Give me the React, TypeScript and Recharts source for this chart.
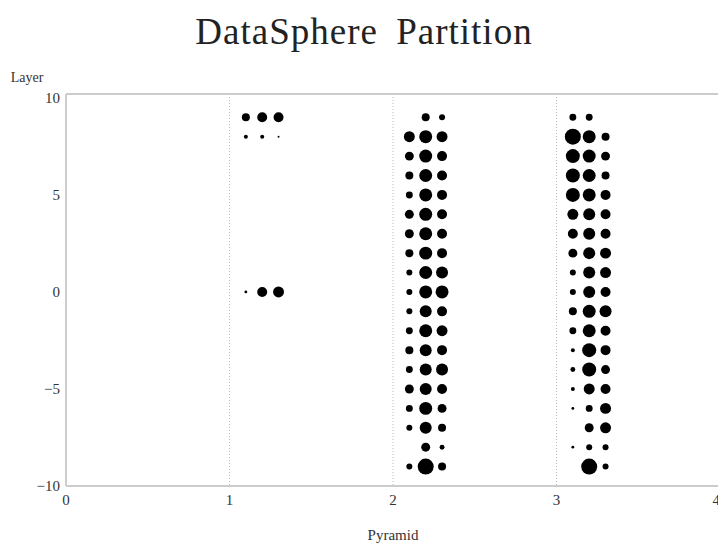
import { CartesianGrid, ReferenceLine, Scatter, ScatterChart, XAxis, YAxis, ZAxis } from "recharts";

// layers from top (9) down to bottom (-9)
const layers = [9, 8, 7, 6, 5, 4, 3, 2, 1, 0, -1, -2, -3, -4, -5, -6, -7, -8, -9];

// dot weights (roughly area) for each sub-column, one value per layer
const p1a = [16, 4, 0, 0, 0, 0, 0, 0, 0, 2, 0, 0, 0, 0, 0, 0, 0, 0, 0];
const p1b = [25, 4, 0, 0, 0, 0, 0, 0, 0, 25, 0, 0, 0, 0, 0, 0, 0, 0, 0];
const p1c = [25, 1, 0, 0, 0, 0, 0, 0, 0, 30, 0, 0, 0, 0, 0, 0, 0, 0, 0];

const p2a = [0, 30, 20, 16, 12, 20, 20, 16, 9, 9, 9, 12, 16, 12, 20, 12, 9, 0, 9];
const p2b = [16, 42, 42, 42, 42, 42, 42, 42, 42, 42, 36, 42, 36, 36, 36, 42, 36, 20, 64];
const p2c = [9, 30, 25, 25, 25, 25, 25, 25, 36, 42, 25, 30, 25, 36, 25, 20, 16, 6, 16];

const p3a = [12, 64, 49, 49, 49, 30, 25, 20, 9, 9, 16, 12, 4, 6, 4, 2, 0, 2, 0];
const p3b = [12, 42, 42, 42, 42, 36, 36, 36, 36, 36, 42, 42, 49, 49, 30, 12, 20, 9, 64];
const p3c = [0, 16, 20, 16, 25, 25, 25, 30, 30, 25, 36, 25, 25, 20, 25, 30, 30, 9, 9];

const columns: { x: number; w: number[] }[] = [
  { x: 1.1, w: p1a },
  { x: 1.2, w: p1b },
  { x: 1.3, w: p1c },
  { x: 2.1, w: p2a },
  { x: 2.2, w: p2b },
  { x: 2.3, w: p2c },
  { x: 3.1, w: p3a },
  { x: 3.2, w: p3b },
  { x: 3.3, w: p3c },
];

const points = columns.flatMap((col) =>
  layers.map((y, i) => ({ x: col.x, y, w: col.w[i] })).filter((p) => p.w > 0)
);

const xTicks = [0, 1, 2, 3, 4];
const yTicks = [-10, -5, 0, 5, 10];

const serif = "'Liberation Serif', 'DejaVu Serif', serif";

function App() {
  return (
    <div style={{ position: "absolute", left: 0, top: 0, width: 718, height: 543, background: "#fff", overflow: "hidden" }}>
      <div
        style={{
          position: "absolute",
          top: 10,
          left: 0,
          width: 718,
          textAlign: "center",
          fontFamily: serif,
          fontSize: 37,
          letterSpacing: 1,
          wordSpacing: 8,
          color: "#222",
          paddingLeft: 10,
          boxSizing: "border-box",
        }}
      >
        DataSphere Partition
      </div>
      <ScatterChart width={720} height={543} margin={{ top: 94, right: 0, bottom: 0, left: 0 }}>
        <CartesianGrid horizontal={false} stroke="#bbb" strokeDasharray="1 2" />
        <XAxis
          type="number"
          dataKey="x"
          domain={[0, 4]}
          ticks={xTicks}
          height={57}
          tickLine={false}
          axisLine={{ stroke: "#ccc", strokeWidth: 2 }}
          tick={{ fill: "#333", fontFamily: serif, fontSize: 15 }}
          label={{ value: "Pyramid", position: "insideBottom", offset: 3, fill: "#333", fontFamily: serif, fontSize: 15 }}
        />
        <YAxis
          type="number"
          dataKey="y"
          domain={[-10, 10.2]}
          ticks={yTicks}
          width={66}
          tickLine={false}
          tickMargin={0}
          allowDataOverflow
          axisLine={{ stroke: "#ccc", strokeWidth: 2 }}
          tickFormatter={(v: number) => (v < 0 ? "\u2212" + Math.abs(v) : String(v))}
          tick={{ fill: "#333", fontFamily: serif, fontSize: 15 }}
          label={{ value: "Layer", position: "top", offset: 12, fill: "#333", fontFamily: serif, fontSize: 14, dx: -6 }}
        />
        <ZAxis type="number" dataKey="w" domain={[0, 64]} range={[0, 201]} />
        <ReferenceLine y={10.2} stroke="#ccc" strokeWidth={2} />
        <Scatter data={points} fill="#000" isAnimationActive={false} />
      </ScatterChart>
    </div>
  );
}

export default App;
